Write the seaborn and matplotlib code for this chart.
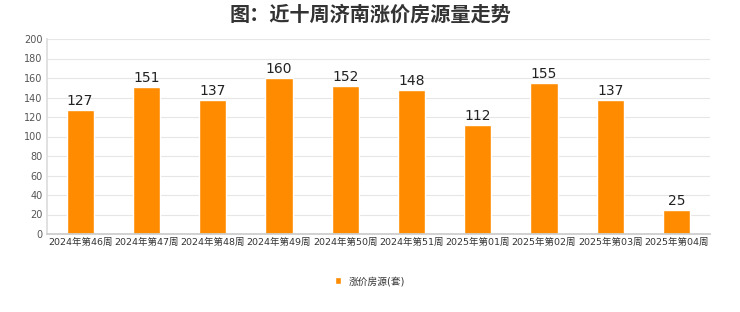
import matplotlib
matplotlib.use("Agg")
import matplotlib.pyplot as plt
import seaborn as sns
import pandas as pd

weeks = ["2024年第46周", "2024年第47周", "2024年第48周", "2024年第49周", "2024年第50周",
         "2024年第51周", "2025年第01周", "2025年第02周", "2025年第03周", "2025年第04周"]
values = [127, 151, 137, 160, 152, 148, 112, 155, 137, 25]
series_name = "涨价房源(套)"
title = "图：近十周济南涨价房源量走势"
yticks = [0, 20, 40, 60, 80, 100, 120, 140, 160, 180, 200]

sns.set_theme(style="white")
plt.rcParams['font.family'] = ['DejaVu Sans', 'Noto Sans CJK SC']

df = pd.DataFrame({"week": weeks, "value": values, "series": series_name})

fig = plt.figure(figsize=(7.4, 3.12), dpi=100)
ax = fig.add_axes([0.0635, 0.25, 0.8955, 0.625])

sns.barplot(data=df, x="week", y="value", hue="series", palette=["#FF8C00"],
            width=0.41, ax=ax, saturation=1)

for i, v in enumerate(values):
    ax.text(i, v + 2, str(v), ha="center", va="bottom", fontsize=10, color="#222222")

ax.set_ylim(0, 200)
ax.set_yticks(yticks)
ax.set_xlim(-0.5, len(weeks) - 0.5)
ax.set_xlabel("")
ax.set_ylabel("")
ax.yaxis.grid(True, color="#e6e6e6", linewidth=0.8)
ax.set_axisbelow(True)
ax.tick_params(axis="both", labelsize=7, colors="#555555", length=0, pad=3)
for lbl in ax.get_xticklabels():
    lbl.set_color("#333333")
    lbl.set_fontsize(6.8)
for s in ["top", "right"]:
    ax.spines[s].set_visible(False)
ax.spines["left"].set_color("#dddddd")
ax.spines["bottom"].set_color("#cccccc")

ax.legend(loc="center", bbox_to_anchor=(370 / 740, 31 / 312), bbox_transform=fig.transFigure,
          frameon=False, fontsize=7, handlelength=0.7, handleheight=0.7, labelcolor="#333333")

fig.text(0.5, 1 - 14 / 312, title, ha="center", va="center", fontsize=14.5, fontweight="bold",
         color="#333333", family=['Noto Sans CJK SC', 'DejaVu Sans'])

fig.savefig("out.png", dpi=100)
